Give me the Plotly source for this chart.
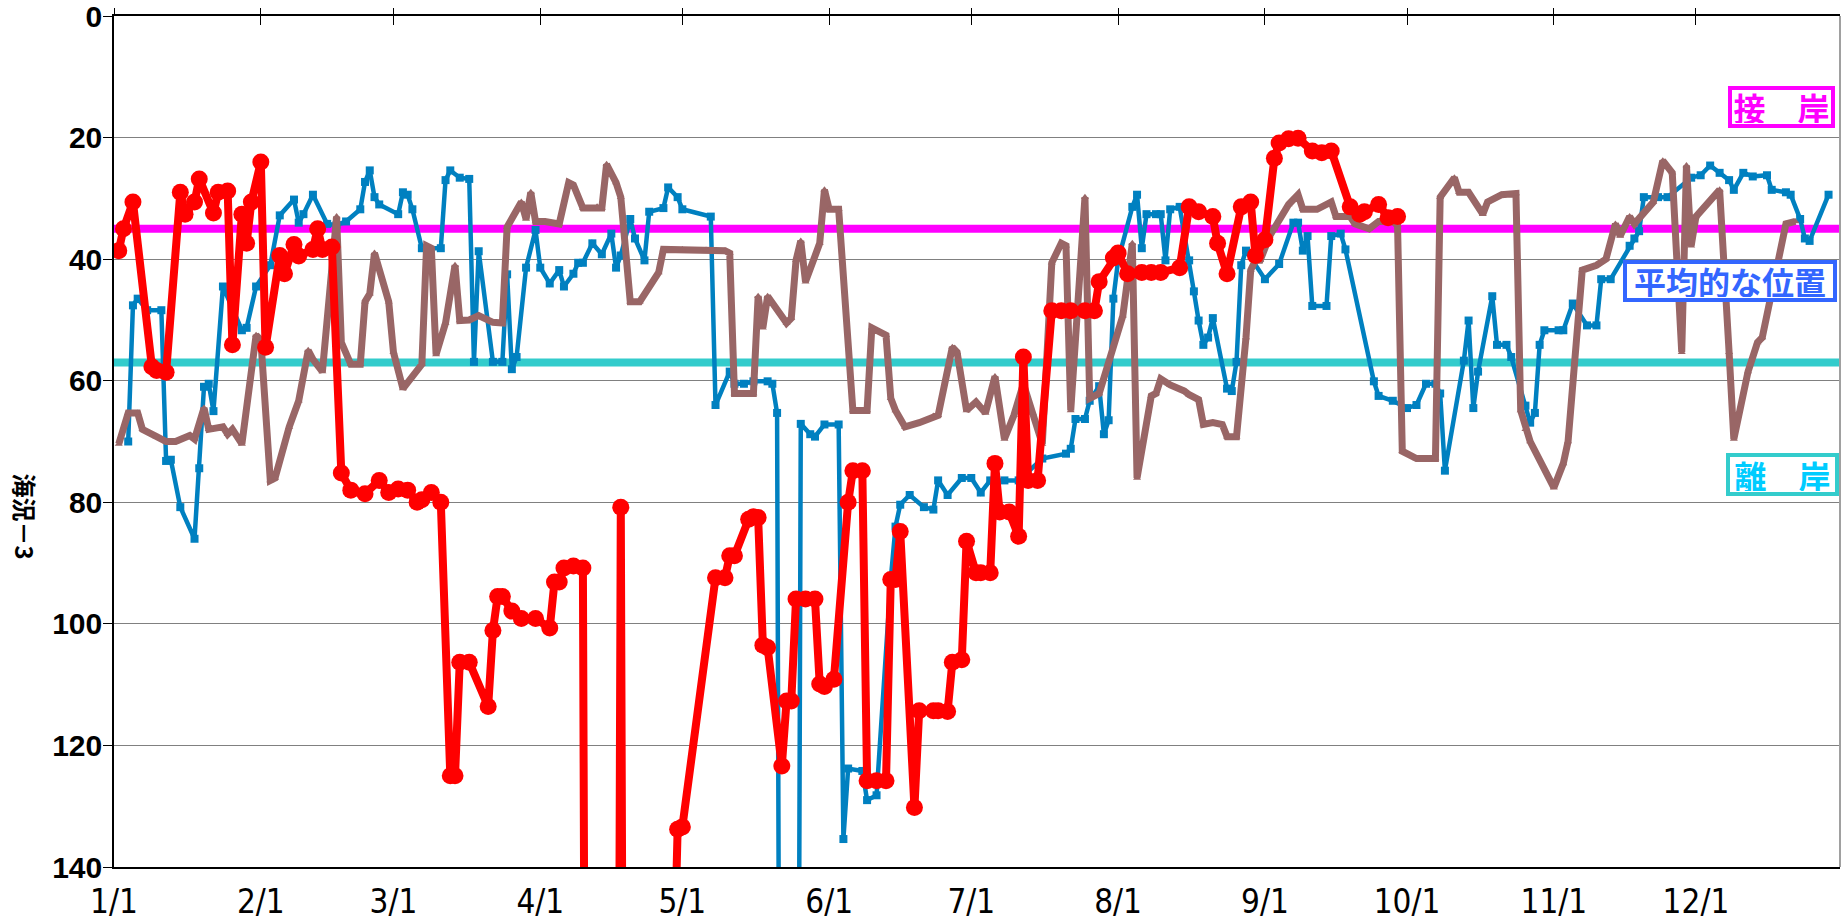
import pandas as pd
import plotly.graph_objects as go

YEAR_START = "2023-01-01"
OFF = 300  # values beyond the bottom of the (reversed) axis

# ---- tick labels ----
month_ticks = ["2023-01-01", "2023-02-01", "2023-03-01", "2023-04-01", "2023-05-01", "2023-06-01",
               "2023-07-01", "2023-08-01", "2023-09-01", "2023-10-01", "2023-11-01", "2023-12-01"]
month_labels = ["1/1", "2/1", "3/1", "4/1", "5/1", "6/1", "7/1", "8/1", "9/1", "10/1", "11/1", "12/1"]
y_ticks = [0, 20, 40, 60, 80, 100, 120, 140]

# ---- reference levels ----
contact_level = 35      # 接岸
offshore_level = 57     # 離岸

# ---- blue series (day of year, value) ----
blue_day = [3, 4, 5, 7, 10, 11, 12, 14, 17, 18, 19, 20, 21, 23, 27, 28, 30,
            33, 35, 38, 39, 40, 42, 45, 47, 49, 52, 53, 54, 55, 56,
            60, 61, 62, 63, 65, 69, 70, 71, 73, 75, 76, 77, 80, 82, 83, 84, 85, 87, 89,
            90, 92, 94, 95, 97, 98, 99, 101, 103, 105, 106, 107, 109, 110, 112, 113, 116, 117, 119,
            120, 126, 127, 130, 131, 133, 135, 138, 139, 140, 141, 144, 145, 147, 148, 150,
            153, 154, 155, 158, 159, 161, 164, 165, 166, 168, 171, 173, 174, 176, 179,
            181, 183, 185, 188, 191, 196, 201, 202, 203, 205, 206, 208, 209, 210, 211,
            212, 215, 216, 217, 218, 220, 221, 222, 223, 225, 227, 228, 229, 230, 231, 232, 235, 236, 237, 238, 239,
            243, 246, 249, 250, 251, 252, 253, 256, 257, 259, 260, 266, 267, 270,
            273, 275, 277, 279, 280, 281, 285, 286, 287, 288, 291, 292, 294, 295, 298, 299, 300, 301, 302,
            305, 306, 308, 311, 313, 314, 316, 320, 321, 322, 323, 326, 328, 333,
            335, 337, 339, 341, 342, 344, 346, 349, 350, 353, 354, 356, 357, 358, 362]
blue_val = [70, 47.6, 46.5, 48.4, 48.4, 73.2, 73, 80.8, 86, 74.4, 61, 60.5, 65, 44.5, 51.7, 51.3, 44.5,
            41, 32.8, 30.2, 34, 32.6, 29.4, 34.2, 34.4, 33.8, 31.8, 27.3, 25.4, 29.8, 31,
            32.6, 29, 29.4, 31.8, 38.2, 38.2, 27, 25.4, 26.6, 26.8, 56.9, 38.7, 56.9, 56.9, 42.5, 58.1, 56.1, 41.4, 35.2,
            41.4, 44, 41.8, 44.5, 42.4, 40.6, 40.6, 37.4, 39.2, 35.8, 41.4, 39.4, 33.4, 36.6, 40.2, 32.2, 31.6, 28.2, 29.8,
            31.8, 33, 64, 58.5, 60.5, 60.5, 60.1, 60.1, 60.5, 65.3, OFF, OFF, 67.1, 68.8, 69.2, 67.2,
            67.2, 135.4, 123.8, 124.2, 129, 128.2, 92.7, 84, 80.4, 78.8, 80.8, 81.2, 76.4, 78.8, 76,
            76, 78.4, 76.4, 76.4, 76.4, 72.8, 72, 71.2, 66.3, 66.3, 63.3, 60.9, 68.8, 66.5, 46.5,
            40.2, 31.4, 29.4, 38.2, 32.6, 32.6, 32.6, 40.2, 31.8, 31.4, 40.2, 45.3, 50.1, 54.1, 52.9, 49.7, 61.3, 61.7, 56.9, 41, 38.6,
            43.3, 40.8, 34, 34, 38.6, 36.2, 47.7, 47.7, 36.2, 35.8, 38.4, 60.1, 62.5, 63.3,
            64.5, 64, 60.5, 60.5, 62.1, 74.8, 56.7, 50.1, 64.5, 58.5, 46.1, 54.1, 54.1, 56.1, 64.1, 66.9, 65.3, 54.1, 51.7,
            51.7, 51.7, 47.3, 50.9, 50.9, 43.3, 43.3, 37.8, 36.6, 35.4, 29.8, 29.8, 29.8, 26.6,
            26.2, 24.6, 25.8, 27, 28.6, 25.8, 26.4, 26.2, 28.6, 29, 29.4, 33.4, 36.6, 37, 29.4]

# ---- brown series ----
brown_day = [1, 3, 5, 6, 9, 11, 13, 16, 17, 19, 20, 23, 24, 25, 27, 30,
             31, 33, 34, 37, 39, 41, 42, 44, 47, 48, 50, 52, 53, 54, 55, 58,
             59, 61, 65, 66, 67, 68, 70, 72, 73, 75, 77, 80, 82, 83, 86, 87, 88, 89,
             91, 94, 96, 97, 99, 102, 103, 104, 106, 107, 109, 111, 115, 116,
             120, 125, 129, 130, 131, 135, 136, 137, 138, 142, 143, 144, 145, 146, 149, 150,
             151, 153, 156, 159, 160, 163, 164, 165, 167, 170, 173, 174, 177, 178, 180,
             182, 184, 186, 188, 190, 192, 194, 196, 198, 200, 201, 202, 205, 206, 208,
             213, 215, 216, 219, 220, 221, 223, 226, 227, 229, 230, 232, 234, 235, 237, 239, 240, 241, 242,
             244, 245, 248, 250, 251, 254, 257, 258, 261, 262, 265, 267, 270, 271, 272,
             275, 279, 280, 283, 284, 286, 289, 290, 293, 296, 297, 298, 299,
             304, 306, 307, 310, 313, 315, 317, 318, 320, 321, 325, 327, 329, 331, 332, 333,
             334, 339, 341, 342, 345, 347, 348, 353, 355]
brown_val = [70.4, 65.3, 65.3, 68, 69.2, 70, 70, 69, 69.6, 64.5, 68, 67.6, 68.8, 68, 70.4, 52.5,
             53.3, 76.4, 76, 67.6, 63.3, 55, 56.5, 58.5, 33, 53.7, 57.3, 57.3, 47, 45.7, 39, 47,
             55.3, 61.3, 57.3, 37.8, 38.2, 55.7, 50.5, 41, 50.1, 50, 49.3, 50.4, 50.5, 34.7, 30.6, 33.4, 29, 33.8,
             33.8, 34.2, 27.4, 27.8, 31.6, 31.4, 31.6, 24.4, 27.4, 29.8, 47, 47, 42.2, 38.4,
             38.4, 38.5, 38.6, 39, 62.1, 62.1, 46.1, 51.3, 46.1, 50.5, 49.7, 40.2, 37, 43.7, 37.4, 28.6,
             31.8, 31.8, 64.9, 64.9, 51.3, 52.5, 62.9, 64.9, 67.6, 66.9, 65.8, 65.7, 54.5, 55.3, 64.9,
             63.5, 65.3, 59.3, 69.6, 65.7, 60.5, 65.3, 70.4, 40.6, 37.4, 37.8, 64.9, 29.8, 62.9, 62.1,
             49.3, 37.4, 76, 62.5, 62.1, 59.7, 60.7, 61.7, 62.3, 63.1, 67.2, 66.9, 67.2, 69.2, 69.2, 52.9, 41.8, 40.2, 40.2,
             36.2, 35, 31, 29.4, 31.8, 31.8, 30.6, 33, 33, 34.2, 35, 33.8, 33.8, 34.4, 71.6,
             72.8, 72.8, 29.8, 26.6, 29, 29, 32.6, 30.6, 29.4, 29.2, 64.9, 68, 70,
             77.6, 73.6, 70, 41.8, 41, 40, 34.2, 36.2, 33, 34.2, 30.6, 23.8, 25.8, 55.3, 24.6, 37.8,
             33, 28.6, 55.3, 69.6, 58.5, 53.7, 52.9, 34.2, 33.8]

# ---- red series ----
red_day = [1, 2, 4, 8, 9, 11, 14, 15, 17, 18, 21, 22, 24, 25, 27, 28, 29,
           31, 32, 35, 36, 38, 39, 42, 43, 44, 46, 48, 50, 53, 56, 58,
           60, 62, 64, 65, 67, 69, 71, 72, 73, 75, 79, 80, 81, 82, 84, 86, 89,
           92, 93, 94, 95, 97, 99, 100, 106, 107, 108, 118, 119,
           120, 127, 129, 130, 131, 134, 135, 136, 137, 138, 141, 142, 143, 144, 146, 148, 149, 150,
           152, 155, 156, 158, 159, 161, 163, 164, 165, 166, 169, 170, 173, 174, 176, 177, 179, 180,
           182, 183, 185, 186, 187, 189, 191, 192, 193, 195, 198, 200, 202, 205, 207, 208, 211,
           212, 214, 217, 219, 221, 225, 227, 229, 232, 233, 235, 238, 240, 241,
           243, 245, 246, 248, 250, 253, 255, 257, 261, 263, 264, 267, 269, 271]
red_val = [38.6, 35, 30.6, 57.7, 58.3, 58.6, 29, 32.6, 30.6, 26.8, 32.4, 29, 28.8, 54.1, 32.6, 37.4, 30.6,
           24, 54.5, 39.4, 42.4, 37.6, 39.5, 38.4, 35, 38.4, 38, 75.2, 78, 78.6, 76.4, 78.4,
           77.8, 78, 80, 79.6, 78.4, 80, 125, 125, 106.3, 106.3, 113.6, 101.1, 95.5, 95.5, 97.9, 99.1, 99.1,
           100.7, 93.1, 93.1, 90.8, 90.5, 90.8, OFF, OFF, 80.8, OFF, 165, 133.8,
           133.4, 92.4, 92.4, 88.8, 88.8, 82.8, 82.4, 82.5, 103.5, 103.9, 123.4, 112.7, 112.7, 95.9, 95.9, 95.9, 109.9, 110.3,
           109.1, 80, 74.8, 74.8, 125.8, 125.8, 125.8, 92.7, 92.7, 84.8, 130.2, 114.3, 114.3, 114.3, 114.4, 106.3, 105.9, 86.4,
           91.6, 91.6, 91.6, 73.6, 81.6, 81.6, 85.6, 56.1, 76.4, 76.4, 48.5, 48.5, 48.5, 48.5, 48.5, 43.7, 39.8,
           39, 42.4, 42.2, 42.2, 42.2, 41.4, 31.4, 32.2, 33, 37.4, 42.4, 31.4, 30.6, 39.4,
           36.8, 23.4, 20.9, 20.2, 20.1, 22.2, 22.5, 22.2, 31.4, 32.6, 32.2, 31, 33.2, 33]

assert len(blue_day) == len(blue_val)
assert len(brown_day) == len(brown_val)
assert len(red_day) == len(red_val)


def to_dates(days):
    return pd.Timestamp(YEAR_START) + pd.to_timedelta(days, unit="D")


BLUE = "#0080C0"
BROWN = "#996666"
RED = "#FF0000"
MAGENTA = "#FF00FF"
TURQ = "#33CCCC"

fig = go.Figure()
fig.add_trace(go.Scatter(x=to_dates(blue_day), y=blue_val, mode="lines+markers",
                         line=dict(color=BLUE, width=4.5),
                         marker=dict(symbol="square", size=8, color=BLUE),
                         showlegend=False))
fig.add_trace(go.Scatter(x=to_dates(brown_day), y=brown_val, mode="lines+markers",
                         line=dict(color=BROWN, width=7),
                         marker=dict(symbol="triangle-up", size=7, color=BROWN),
                         showlegend=False))
fig.add_trace(go.Scatter(x=to_dates(red_day), y=red_val, mode="lines+markers",
                         line=dict(color=RED, width=8),
                         marker=dict(symbol="circle", size=17, color=RED),
                         showlegend=False))
# invisible traces to create top axes with crossing ticks
for ax in ("x2", "x3"):
    fig.add_trace(go.Scatter(x=to_dates([blue_day[0]]), y=[blue_val[0]], xaxis=ax, mode="markers",
                             marker=dict(opacity=0), hoverinfo="skip", showlegend=False))

x_range = ["2023-01-01", "2023-12-31 10:00"]

fig.update_layout(
    width=1843, height=924,
    margin=dict(l=114, r=3, t=16, b=57, autoexpand=False),
    paper_bgcolor="white", plot_bgcolor="white",
    xaxis=dict(type="date", range=x_range, tickvals=month_ticks, ticktext=month_labels,
               ticks="", showgrid=False, zeroline=False, automargin=False, ticklabelstandoff=5,
               showline=True, linecolor="black", linewidth=1.5,
               tickfont=dict(family="Liberation Sans Narrow, Arial Narrow, DejaVu Sans Condensed, Liberation Sans",
                             size=33, color="black")),
    xaxis2=dict(type="date", range=x_range, overlaying="x", side="top", tickvals=month_ticks,
                showticklabels=False, ticks="outside", ticklen=6, tickcolor="black", tickwidth=1,
                automargin=False,
                showline=True, linecolor="black", linewidth=1.5, showgrid=False, zeroline=False),
    xaxis3=dict(type="date", range=x_range, overlaying="x", side="top", tickvals=month_ticks,
                showticklabels=False, ticks="inside", ticklen=9, tickcolor="black", tickwidth=1,
                automargin=False,
                showline=False, showgrid=False, zeroline=False),
    yaxis=dict(range=[140, 0], tickvals=y_ticks, showgrid=True, gridcolor="#808080", gridwidth=1,
               zeroline=False, showline=True, linecolor="black", linewidth=1.5, automargin=False,
               ticks="outside", ticklen=9, tickcolor="black", ticklabeloverflow="allow",
               ticklabelstandoff=-5,
               tickfont=dict(family="Liberation Sans", size=30, color="black", weight="bold")),
)

# reference level lines
for lvl, col in ((contact_level, MAGENTA), (offshore_level, TURQ)):
    fig.add_shape(type="line", xref="paper", x0=0, x1=1, yref="y", y0=lvl, y1=lvl,
                  line=dict(color=col, width=8), layer="between")

# right border
fig.add_shape(type="line", xref="paper", x0=1, x1=1, yref="paper", y0=0, y1=1,
              line=dict(color="#A0A0A0", width=2))

label_font = "Noto Sans CJK JP"
fig.add_annotation(text="接　岸", xref="paper", x=1, xanchor="right", xshift=-5,
                   yref="y", y=15, yanchor="middle", showarrow=False,
                   font=dict(family=label_font, size=32, color=MAGENTA, weight="bold"),
                   bgcolor="white", bordercolor=MAGENTA, borderwidth=4, borderpad=1,
                   width=97, height=32)
fig.add_annotation(text="平均的な位置", xref="paper", x=1, xanchor="right", xshift=-3,
                   yref="y", y=43.6, yanchor="middle", showarrow=False,
                   font=dict(family=label_font, size=32, color="#3366FF", weight="bold"),
                   bgcolor="white", bordercolor="#3366FF", borderwidth=4, borderpad=1,
                   width=204, height=32)
fig.add_annotation(text="離　岸", xref="paper", x=1, xanchor="right", xshift=-1,
                   yref="y", y=75.4, yanchor="middle", showarrow=False,
                   font=dict(family=label_font, size=32, color="#00CCFF", weight="bold"),
                   bgcolor="white", bordercolor=TURQ, borderwidth=4, borderpad=1,
                   width=103, height=33)

# y-axis title (rotated clockwise)
fig.add_annotation(text="海況－3", xref="paper", x=0, xshift=-88, xanchor="center",
                   yref="paper", y=0.412, yanchor="middle", showarrow=False, textangle=90,
                   font=dict(family=label_font, size=24, color="black", weight="bold"))

fig.write_html("out.html",
               config={"displayModeBar": False},
               post_script="document.body.style.margin='0px';"
                           "document.documentElement.style.overflow='hidden';")
